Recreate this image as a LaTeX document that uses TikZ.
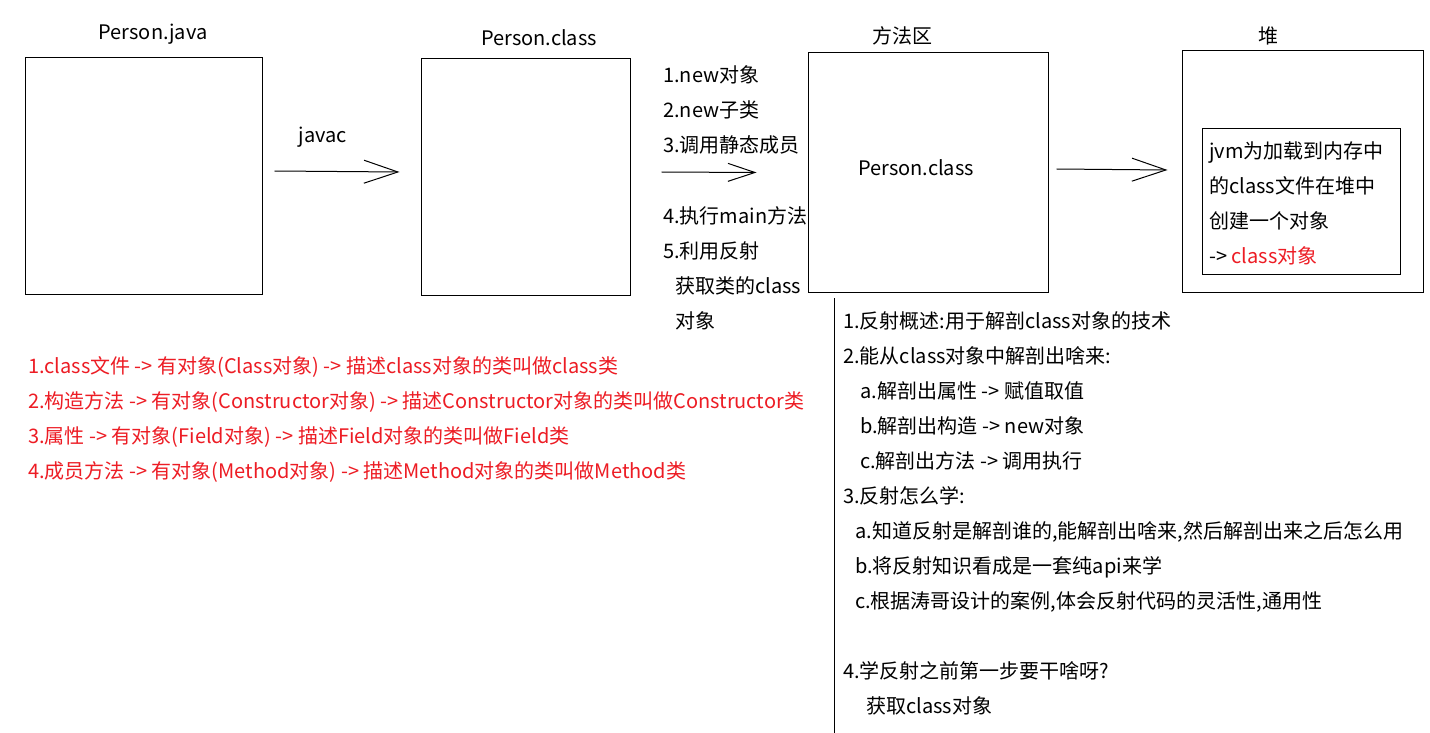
\documentclass[tikz,border=0pt]{standalone}
\usepackage{fontspec}
\setmainfont{Noto Sans CJK SC}
\usetikzlibrary{arrows.meta,positioning}
\definecolor{tred}{RGB}{237,28,36}
\tikzset{
  box/.style={draw, line width=1pt, inner sep=0pt},
  lbl/.style={font=\fontsize{20}{24}\selectfont, inner sep=0pt},
  txt/.style={font=\fontsize{20}{35}\selectfont, align=left, anchor=base west, inner sep=0pt},
  arr/.style={line width=1pt, -{Straight Barb[length=34pt,width=23pt]}},
}
\begin{document}
\begin{tikzpicture}[x=1pt,y=-1pt]
\useasboundingbox (0,0) rectangle (1430,733);
\fill[white] (0,0) rectangle (1430,733);

% Boxes
\node[box, minimum width=237pt, minimum height=236pt] (java) at (143.5,176) {};
\node[box, minimum width=209pt, minimum height=236pt] (cls) at (525.5,177) {};
\node[box, minimum width=240pt, minimum height=239pt] (fq) at (928,172.5) {};
\node[box, minimum width=241pt, minimum height=241pt] (heap) at (1302.5,171.5) {};
\node[box, minimum width=198pt, minimum height=145pt] (obj) at (1301,201.5) {};

% Titles
\node[lbl] (javaT) at (153,34) {Person.java};
\node[lbl] (clsT) at (539,38) {Person.class};
\node[lbl] (fqT) at (902,36) {方法区};
\node[lbl] (heapT) at (1268,36) {堆};
\node[lbl] (fqC) at (916,168) {Person.class};
\node[txt] (objT) at (1209,263) {jvm为加载到内存中\\的class文件在堆中\\创建一个对象\\-> \textcolor{tred}{class对象}};

% Arrows
\node[lbl] (javac) at (323,137) {javac};
\draw[arr] ([xshift=12pt,yshift=5pt]java.east) -- ([xshift=-21pt,yshift=5pt]cls.west);
\draw[arr, -{Straight Barb[length=27pt,width=18pt]}] ([xshift=31pt,yshift=5pt]cls.east) -- ([xshift=-51pt,yshift=0pt]fq.west);
\draw[arr] ([xshift=8pt,yshift=3.5pt]fq.east) -- ([xshift=-14pt,yshift=1.5pt]heap.west);

% Loading triggers
\node[txt] (stepA) at (663,153) {1.new对象\\2.new子类\\3.调用静态成员};
\node[txt] (stepB) at (663,328) {4.执行main方法\\5.利用反射\\\hspace*{12pt}获取类的class\\\hspace*{12pt}对象};

% Red list
\node[txt, text=tred] (kinds) at (28,478) {1.class文件 -> 有对象(Class对象) -> 描述class对象的类叫做class类\\2.构造方法 -> 有对象(Constructor对象) -> 描述Constructor对象的类叫做Constructor类\\3.属性 -> 有对象(Field对象) -> 描述Field对象的类叫做Field类\\4.成员方法 -> 有对象(Method对象) -> 描述Method对象的类叫做Method类};

% Notes
\draw[line width=1pt] (834,298) -- (834,733);
\node[txt] (notes) at (843,713) {1.反射概述:用于解剖class对象的技术\\2.能从class对象中解剖出啥来:\\\hspace*{17pt}a.解剖出属性 -> 赋值取值\\\hspace*{17pt}b.解剖出构造 -> new对象\\\hspace*{17pt}c.解剖出方法 -> 调用执行\\3.反射怎么学:\\\hspace*{12pt}a.知道反射是解剖谁的,能解剖出啥来,然后解剖出来之后怎么用\\\hspace*{12pt}b.将反射知识看成是一套纯api来学\\\hspace*{12pt}c.根据涛哥设计的案例,体会反射代码的灵活性,通用性\\ \\4.学反射之前第一步要干啥呀?\\\hspace*{23pt}获取class对象};

\end{tikzpicture}
\end{document}
